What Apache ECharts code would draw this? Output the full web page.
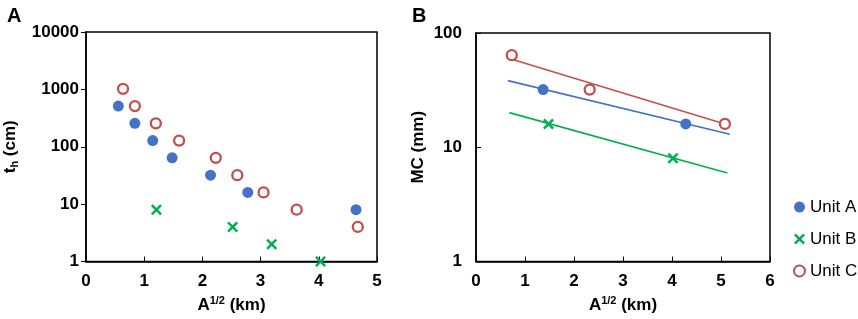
<!DOCTYPE html>
<html>
<head>
<meta charset="utf-8">
<script src="https://cdn.jsdelivr.net/npm/echarts@6/dist/echarts.min.js"></script>
<style>
html,body{margin:0;padding:0;background:#fff;}
#c{width:858px;height:319px;}
</style>
</head>
<body>
<div id="c"></div>
<script>
// ---- Panel A data ----
var aUnitAX = [0.555, 0.84, 1.146, 1.48, 2.14, 2.78, 4.64];
var aUnitAY = [512, 256, 128, 64, 32, 16, 8];
var aUnitBX = [1.21, 2.52, 3.19, 4.03];
var aUnitBY = [8, 4, 2, 1];
var aUnitCX = [0.636, 0.84, 1.20, 1.60, 2.23, 2.60, 3.05, 3.62, 4.67];
var aUnitCY = [1024, 512, 256, 128, 64, 32, 16, 8, 4];
// ---- Panel B data ----
var bUnitAX = [1.37, 4.28];
var bUnitAY = [32, 16];
var bUnitBX = [1.48, 4.02];
var bUnitBY = [16, 8];
var bUnitCX = [0.73, 2.32, 5.08];
var bUnitCY = [64, 32, 16];
// fitted trend lines (panel B)
var fitAX = [0.65, 5.18];
var fitAY = [38.3, 13.0];
var fitBX = [0.68, 5.13];
var fitBY = [20.1, 5.95];
var fitCX = [0.73, 5.08];
var fitCY = [59, 16];
// ticks
var aXTicks = [0, 1, 2, 3, 4, 5];
var aYTicks = [1, 10, 100, 1000, 10000];
var bXTicks = [0, 1, 2, 3, 4, 5, 6];
var bYTicks = [1, 10, 100];
var seriesNames = ['Unit A', 'Unit B', 'Unit C'];

var BLUE = '#4472C4', GREEN = '#00B050', RED = '#C0504D';
var FONT = 'Liberation Sans, Arial, sans-serif';
var CROSS = 'path://M1.6,0 L5,3.4 L8.4,0 L10,1.6 L6.6,5 L10,8.4 L8.4,10 L5,6.6 L1.6,10 L0,8.4 L3.4,5 L0,1.6 Z';

function zip(xs, ys) { return xs.map(function (x, i) { return [x, ys[i]]; }); }

var tickLbl = { color: '#000', fontFamily: FONT, fontWeight: 'bold', fontSize: 17,
  formatter: function (v) { return String(Math.round(v)); } };
var nameRich = {
  a: { fontFamily: FONT, fontWeight: 'bold', fontSize: 17, color: '#000', lineHeight: 20 },
  s: { fontFamily: FONT, fontWeight: 'bold', fontSize: 11, color: '#000', verticalAlign: 'bottom', lineHeight: 14 },
  p: { fontFamily: FONT, fontWeight: 'bold', fontSize: 11, color: '#000', verticalAlign: 'top', lineHeight: 14 }
};

function xAxis(gi, max) {
  return {
    type: 'value', gridIndex: gi, min: 0, max: max, interval: 1,
    name: '{a|A}{p|1/2}{a| (km)}', nameLocation: 'middle', nameGap: 34,
    nameTextStyle: { rich: nameRich },
    axisLine: { show: true, lineStyle: { color: '#000', width: 1.5 } },
    axisTick: { show: true, inside: true, length: 5, lineStyle: { color: '#000', width: 1 } },
    axisLabel: Object.assign({ margin: 11 }, tickLbl),
    splitLine: { show: false }
  };
}
function yAxis(gi, max, name, gap, inside, margin) {
  return {
    type: 'log', logBase: 10, gridIndex: gi, min: 1, max: max,
    name: name, nameLocation: 'middle', nameGap: gap,
    nameTextStyle: { rich: nameRich },
    axisLine: { show: true, lineStyle: { color: '#000', width: 1.5 } },
    axisTick: { show: true, inside: inside, length: 5, lineStyle: { color: '#000', width: 1 } },
    minorTick: { show: false },
    axisLabel: Object.assign({ margin: margin }, tickLbl),
    splitLine: { show: false }
  };
}
function scatterA(name, gi, data) {
  return { name: name, type: 'scatter', xAxisIndex: gi, yAxisIndex: gi, data: data,
    symbol: 'circle', symbolSize: 11, itemStyle: { color: BLUE, opacity: 1 }, z: 5 };
}
function scatterB(name, gi, data) {
  return { name: name, type: 'scatter', xAxisIndex: gi, yAxisIndex: gi, data: data,
    symbol: CROSS, symbolSize: 11, itemStyle: { color: GREEN, opacity: 1 }, z: 5 };
}
function scatterC(name, gi, data) {
  return { name: name, type: 'scatter', xAxisIndex: gi, yAxisIndex: gi, data: data,
    symbol: 'circle', symbolSize: 10, itemStyle: { color: '#fff', borderColor: RED, borderWidth: 2.3, opacity: 1 }, z: 5 };
}
function fit(gi, data, color) {
  return { name: 'fit', type: 'line', xAxisIndex: gi, yAxisIndex: gi, data: data,
    showSymbol: false, symbol: 'none', lineStyle: { color: color, width: 1.6 }, z: 3, silent: true };
}

var chart = echarts.init(document.getElementById('c'), null, { renderer: 'canvas' });
chart.setOption({
  animation: false,
  backgroundColor: '#fff',
  textStyle: { fontFamily: FONT },
  title: [
    { text: 'A', left: 2, top: 1, textStyle: { fontFamily: FONT, fontWeight: 'bold', fontSize: 20, color: '#000' } },
    { text: 'B', left: 407, top: 1, textStyle: { fontFamily: FONT, fontWeight: 'bold', fontSize: 20, color: '#000' } }
  ],
  grid: [
    { left: 86, top: 32, width: 291, height: 230, show: true, borderColor: '#000', borderWidth: 1.5, backgroundColor: 'transparent' },
    { left: 476, top: 33, width: 294, height: 231, show: true, borderColor: '#000', borderWidth: 1.5, backgroundColor: 'transparent' }
  ],
  xAxis: [xAxis(0, 5), xAxis(1, 6)],
  yAxis: [
    yAxis(0, 10000, '{a|t}{s|h}{a| (cm)}', 66, false, 7),
    yAxis(1, 100, '{a|MC (mm)}', 48, true, 14)
  ],
  legend: {
    data: seriesNames, orient: 'vertical', left: 788, top: 193,
    itemWidth: 11, itemHeight: 11, itemGap: 14,
    textStyle: { fontFamily: FONT, fontSize: 17, color: '#000', lineHeight: 18 }
  },
  series: [
    scatterA('Unit A', 0, zip(aUnitAX, aUnitAY)),
    scatterB('Unit B', 0, zip(aUnitBX, aUnitBY)),
    scatterC('Unit C', 0, zip(aUnitCX, aUnitCY)),
    fit(1, zip(fitAX, fitAY), BLUE),
    fit(1, zip(fitBX, fitBY), GREEN),
    fit(1, zip(fitCX, fitCY), RED),
    scatterA('Unit A', 1, zip(bUnitAX, bUnitAY)),
    scatterB('Unit B', 1, zip(bUnitBX, bUnitBY)),
    scatterC('Unit C', 1, zip(bUnitCX, bUnitCY))
  ]
});
</script>
</body>
</html>
